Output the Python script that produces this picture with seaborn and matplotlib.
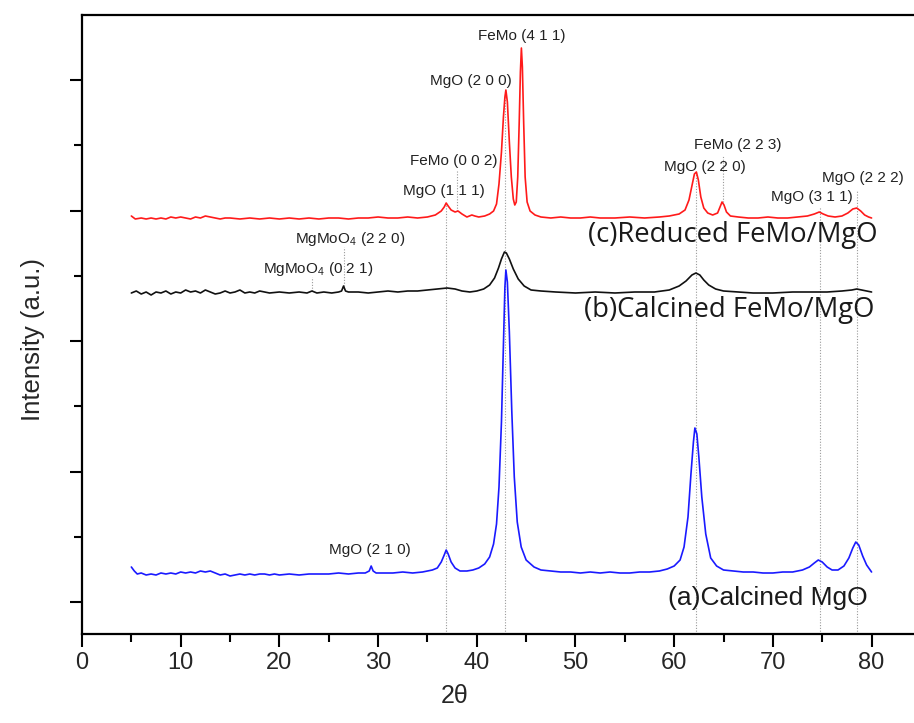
import matplotlib
matplotlib.use("Agg")
import matplotlib.pyplot as plt
from matplotlib.ticker import MultipleLocator
import seaborn as sns
import pandas as pd

# ---------------- data (2theta, intensity a.u.) ----------------
# (a) calcined MgO
x_a = [5.0, 5.3, 5.6, 6.0, 6.5, 7.0, 7.5, 8.0, 8.5, 9.0, 9.5, 10.0, 10.5, 11.0, 11.5,
       12.0, 12.5, 13.0, 13.5, 14.0, 14.5, 15.0, 15.5, 16.0, 16.5, 17.0, 17.5, 18.0,
       18.5, 19.0, 19.5, 20.0, 21.0, 22.0, 23.0, 24.0, 25.0, 26.0, 27.0, 28.0, 28.7,
       29.1, 29.3, 29.5, 29.8, 30.5, 31.5, 32.5, 33.5, 34.5, 35.5, 36.0, 36.4, 36.7,
       36.9, 37.1, 37.4, 37.8, 38.3, 39.0, 39.6, 40.2, 40.8, 41.3, 41.7, 42.0, 42.25,
       42.5, 42.7, 42.85, 42.95, 43.1, 43.3, 43.55, 43.8, 44.1, 44.5, 45.0, 45.8, 46.5,
       47.5, 48.5, 49.5, 50.5, 51.5, 52.5, 53.5, 54.5, 55.5, 56.5, 57.5, 58.5, 59.3,
       60.0, 60.6, 61.0, 61.4, 61.7, 61.95, 62.1, 62.3, 62.5, 62.8, 63.2, 63.7, 64.3,
       65.0, 66.0, 67.0, 68.0, 69.0, 70.0, 71.0, 72.0, 73.0, 73.7, 74.2, 74.6, 75.0,
       75.5, 76.0, 76.6, 77.2, 77.7, 78.1, 78.4, 78.7, 79.1, 79.5, 80.0]
y_a = [35, 31, 28, 29, 27, 28, 27, 29, 28, 29, 28, 30, 29, 30, 29,
       31, 30, 31, 29, 27, 28, 26, 27, 28, 27, 28, 27, 28,
       28, 27, 28, 27, 28, 27, 28, 28, 28, 29, 28, 29, 29,
       31, 36, 31, 29, 29, 29, 30, 29, 30, 32, 34, 40, 47,
       52, 48, 40, 34, 31, 31, 32, 34, 38, 45, 58, 78, 115,
       180, 255, 315, 332, 320, 270, 190, 125, 80, 55, 42, 35, 32,
       31, 30, 30, 29, 30, 29, 30, 29, 29, 30, 30, 31, 33,
       36, 42, 55, 85, 128, 160, 174, 168, 145, 105, 68, 44, 36,
       32, 31, 30, 30, 29, 29, 30, 30, 32, 35, 39, 42, 40,
       35, 32, 32, 36, 44, 54, 60, 57, 46, 37, 30]

# (b) calcined FeMo/MgO
x_b = [5.0, 5.5, 6.0, 6.5, 7.0, 7.5, 8.0, 8.5, 9.0, 9.5, 10.0, 10.5, 11.0, 11.5, 12.0,
       12.5, 13.0, 13.5, 14.0, 14.5, 15.0, 15.5, 16.0, 16.5, 17.0, 17.5, 18.0, 19.0,
       20.0, 21.0, 22.0, 22.8, 23.3, 23.8, 24.5, 25.3, 26.0, 26.3, 26.5, 26.7, 27.0,
       28.0, 29.0, 30.0, 31.0, 32.0, 33.0, 34.0, 35.0, 36.0, 37.0, 37.8, 38.5, 39.3,
       40.0, 40.7, 41.3, 41.8, 42.2, 42.5, 42.8, 43.0, 43.3, 43.7, 44.2, 44.8, 45.5,
       46.5, 48.0, 50.0, 52.0, 54.0, 56.0, 58.0, 59.5, 60.5, 61.2, 61.8, 62.2, 62.6,
       63.0, 63.5, 64.2, 65.0, 66.5, 68.0, 70.0, 72.0, 74.0, 75.5, 77.0, 78.0, 78.5,
       79.0, 79.5, 80.0]
y_b = [309, 311, 308, 310, 307, 310, 309, 311, 308, 310, 309, 312, 310, 311, 309,
       312, 310, 308, 309, 311, 309, 310, 312, 309, 310, 309, 311, 309,
       310, 309, 310, 309, 311, 309, 310, 309, 310, 311, 316, 311, 310,
       310, 309, 310, 311, 310, 311, 311, 312, 313, 314, 313, 311, 310,
       311, 313, 317, 324, 334, 343, 350, 349, 343, 333, 323, 316, 312,
       311, 310, 309, 310, 309, 310, 310, 312, 316, 321, 327, 329, 327,
       322, 317, 313, 311, 310, 309, 309, 310, 310, 310, 311, 312, 313,
       312, 311, 310]

# (c) reduced FeMo/MgO
x_c = [5.0, 5.4, 6.0, 6.5, 7.0, 7.5, 8.0, 8.5, 9.0, 9.5, 10.0, 10.5, 11.0, 11.5, 12.0,
       12.5, 13.0, 13.5, 14.0, 14.5, 15.0, 16.0, 17.0, 18.0, 19.0, 20.0, 21.0, 22.0,
       23.0, 24.0, 25.0, 26.0, 27.0, 28.0, 29.0, 30.0, 31.0, 32.0, 33.0, 34.0, 35.0,
       35.8, 36.4, 36.7, 36.9, 37.1, 37.4, 37.8, 38.1, 38.5, 39.0, 39.5, 39.8, 40.2,
       40.8, 41.3, 41.7, 42.0, 42.25, 42.5, 42.7, 42.85, 42.95, 43.1, 43.3, 43.5, 43.7,
       43.85, 44.0, 44.15, 44.3, 44.42, 44.52, 44.62, 44.75, 44.9, 45.1, 45.4, 45.9,
       46.5, 47.5, 48.5, 49.5, 50.5, 51.5, 52.5, 54.0, 55.5, 57.0, 58.5, 59.5, 60.5,
       61.1, 61.5, 61.8, 62.05, 62.25, 62.45, 62.7, 63.0, 63.4, 63.9, 64.4, 64.65,
       64.85, 65.05, 65.3, 65.7, 66.5, 67.5, 68.5, 69.5, 70.5, 71.5, 72.5, 73.5, 74.2,
       74.7, 75.1, 75.6, 76.3, 77.0, 77.6, 78.1, 78.5, 78.9, 79.3, 79.7, 80.0]
y_c = [386, 383, 384, 383, 384, 383, 384, 383, 385, 384, 385, 384, 383, 385, 384,
       386, 385, 384, 383, 384, 384, 383, 384, 383, 384, 383, 384, 383,
       384, 383, 384, 384, 383, 384, 384, 385, 384, 384, 385, 384, 385,
       387, 391, 395, 399, 396, 392, 390, 391, 388, 385, 387, 386, 385,
       386, 388, 391, 398, 418, 450, 485, 505, 512, 500, 460, 425, 403,
       397, 400, 425, 480, 530, 554, 535, 480, 425, 400, 391, 387,
       385, 384, 385, 384, 384, 385, 384, 384, 385, 384, 385, 386, 388,
       392, 402, 416, 428, 430, 422, 405, 394, 389, 387, 389, 395,
       400, 397, 390, 386, 385, 384, 384, 385, 384, 384, 385, 386, 388,
       390, 388, 386, 385, 386, 389, 393, 394, 391, 387, 385, 384]

# reflection markers: position, top, bottom of dotted guide
ref_pos = [36.9, 38.0, 42.9, 62.2, 64.9, 74.8, 78.5, 23.3, 26.5]
ref_top = [399, 432, 512, 430, 447, 395, 412, 325, 355]
ref_bot = [-32, 391, -32, -32, 400, -32, -32, 311, 316]

peak_labels = ["FeMo (4 1 1)", "MgO (2 0 0)", "FeMo (0 0 2)", "MgO (1 1 1)",
               "FeMo (2 2 3)", "MgO (2 2 0)", "MgO (3 1 1)", "MgO (2 2 2)",
               "MgMoO$_4$ (2 2 0)", "MgMoO$_4$ (0 2 1)", "MgO (2 1 0)"]
peak_lx = [44.6, 39.4, 37.7, 36.7, 66.4, 63.1, 74.0, 79.1, 27.2, 23.9, 29.2]
peak_ly = [566, 521, 441, 411, 457, 435, 405, 424, 363, 333, 52]

sample_labels = ["(c)Reduced FeMo/MgO", "(b)Calcined FeMo/MgO", "(a)Calcined MgO"]
sample_lx = [65.9, 65.6, 69.5]
sample_ly = [367, 292, 4]

# ---------------- plotting ----------------
sns.set_theme(style="ticks")
plt.rcParams['font.family'] = ['Liberation Sans', 'DejaVu Sans']
plt.rcParams['mathtext.fontset'] = 'custom'
plt.rcParams['mathtext.rm'] = 'Liberation Sans'

fig = plt.figure(figsize=(9.14, 7.23), dpi=100)
ax = fig.add_axes([82/914, 1-634/723, 1-82/914, (634-15)/723])

df = pd.concat([
    pd.DataFrame({"two_theta": x_a, "intensity": y_a, "sample": "a"}),
    pd.DataFrame({"two_theta": x_b, "intensity": y_b, "sample": "b"}),
    pd.DataFrame({"two_theta": x_c, "intensity": y_c, "sample": "c"}),
])
sns.lineplot(data=df, x="two_theta", y="intensity", hue="sample",
             palette={"a": "#1a1aff", "b": "#111111", "c": "#ff1a1a"},
             estimator=None, sort=False, linewidth=1.2, legend=False, ax=ax, zorder=3)

for p, t, b in zip(ref_pos, ref_top, ref_bot):
    ax.plot([p, p], [b, t], color="#9a9a9a", linestyle=(0, (1, 1.5)), linewidth=0.8, zorder=1)

for s, lx, ly in zip(peak_labels, peak_lx, peak_ly):
    ax.text(lx, ly, s, ha="center", va="center", fontsize=11, color="#222222", zorder=4)

for i, (s, lx, ly) in enumerate(zip(sample_labels, sample_lx, sample_ly)):
    fam = ['Open Sans', 'DejaVu Sans'] if i < 2 else ['Liberation Sans', 'DejaVu Sans']
    fs = 19.8 if i < 2 else 19
    ax.text(lx, ly, s, ha="center", va="center", fontsize=fs, color="#1a1a1a",
            family=fam, zorder=4)

ax.set_xlim(0, 84.3)
ax.set_ylim(-32, 587)
ax.xaxis.set_major_locator(MultipleLocator(10))
ax.xaxis.set_minor_locator(MultipleLocator(5))
ax.yaxis.set_major_locator(MultipleLocator(130.5))
ax.yaxis.set_minor_locator(MultipleLocator(65.25))
ax.tick_params(axis="both", which="major", direction="out", length=9, width=1.5, color="black")
ax.tick_params(axis="both", which="minor", direction="out", length=5.5, width=1.5, color="black")
ax.tick_params(axis="y", which="both", labelleft=False)
ax.tick_params(axis="x", which="major", labelsize=17, pad=4)
narrow = ['Liberation Sans Narrow', 'Liberation Sans', 'DejaVu Sans']
for t in ax.xaxis.get_major_ticks():
    t.label1.set_fontfamily(narrow)

for side in ["left", "bottom", "top"]:
    ax.spines[side].set_linewidth(1.6)
    ax.spines[side].set_color("black")
ax.spines["right"].set_visible(False)

ax.set_xlabel("2θ", fontsize=18, family=narrow)
ax.xaxis.set_label_coords(0.448, -0.081)
ax.set_ylabel("Intensity (a.u.)", fontsize=18.5)
ax.yaxis.set_label_coords(-0.0445, 0.475)

fig.savefig("out.png", dpi=100)
